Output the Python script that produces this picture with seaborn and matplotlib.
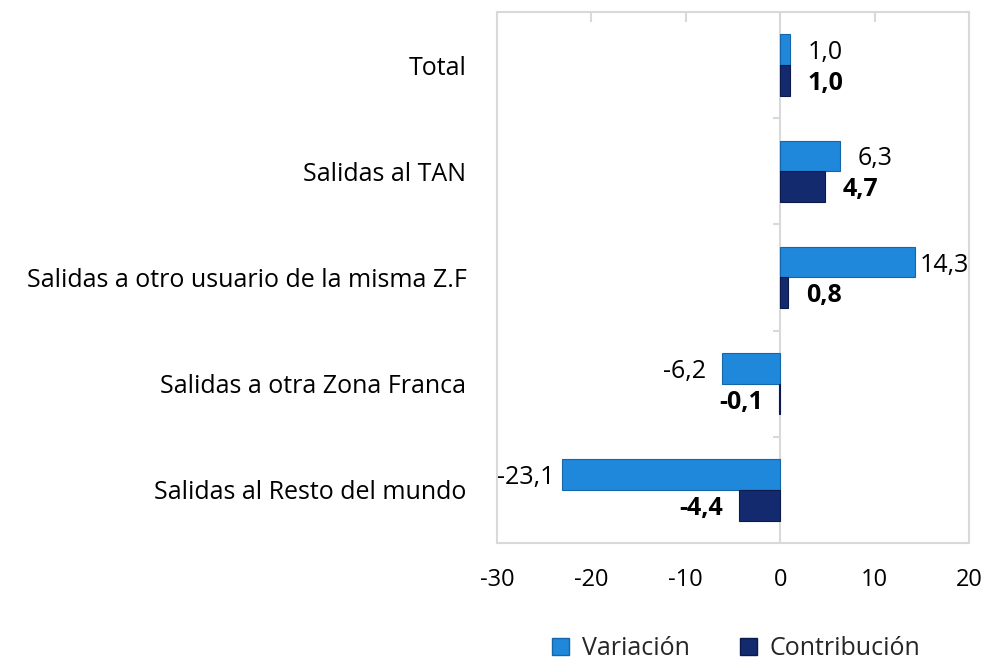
import matplotlib
matplotlib.use("Agg")
import matplotlib.pyplot as plt
import seaborn as sns
import pandas as pd
from matplotlib.patches import Patch

categories = ["Total", "Salidas al TAN", "Salidas a otro usuario de la misma Z.F",
              "Salidas a otra Zona Franca", "Salidas al Resto del mundo"]
variacion = [1.0, 6.3, 14.3, -6.2, -23.1]
contribucion = [1.0, 4.7, 0.8, -0.1, -4.4]
series_names = ["Variación", "Contribución"]
xticks = [-30, -20, -10, 0, 10, 20]

sns.set_theme(style="white")
plt.rcParams["font.family"] = ["Open Sans", "DejaVu Sans"]

FS = 18
FS_TICK = 17
colors = {"Variación": "#1f88db", "Contribución": "#142a6e"}
edges = {"Variación": "#1565a8", "Contribución": "#0b1a4a"}

df = pd.DataFrame({
    "cat": categories * 2,
    "serie": [series_names[0]] * len(categories) + [series_names[1]] * len(categories),
    "value": variacion + contribucion,
})

fig = plt.figure(figsize=(9.88, 6.62), dpi=100)
ax = fig.add_axes([497 / 988, (662 - 543) / 662, (969 - 497) / 988, (543 - 12) / 662])

sns.barplot(data=df, x="value", y="cat", hue="serie", orient="h", order=categories,
            hue_order=series_names, palette=colors, width=0.58, dodge=True,
            ax=ax, legend=False, saturation=1, linewidth=0)

for cont, name in zip(ax.containers, series_names):
    for p in cont:
        p.set_edgecolor(edges[name])
        p.set_linewidth(0.8)

ax.set_xlim(-30, 20)
ax.set_ylim(4.5, -0.5)
ax.set_xticks(xticks)
ax.set_xticklabels([str(t) for t in xticks])
ax.set_xlabel("")
ax.set_ylabel("")

gray = "#d9d9d9"
for s in ax.spines.values():
    s.set_visible(True)
    s.set_color(gray)
    s.set_linewidth(1.5)

ax.axvline(0, color=gray, lw=1.5, zorder=0.5)
ax.tick_params(axis="x", bottom=False, top=True, direction="in", length=7, width=1.5,
               color=gray, labelbottom=True, labeltop=False, labelsize=FS_TICK, pad=18,
               labelcolor="black")
ax.tick_params(axis="y", left=False, length=0, labelsize=FS, pad=22, labelcolor="black")
# category separator ticks on the zero axis
ax.hlines([0.5, 1.5, 2.5, 3.5], xmin=-0.75, xmax=0, color=gray, lw=1.5, zorder=0.5)

# data labels
fig.canvas.draw()
renderer = fig.canvas.get_renderer()
ax_bb = ax.get_window_extent(renderer)
texts = []
for cont, vals, bold in zip(ax.containers, [variacion, contribucion], [False, True]):
    for p, v in zip(cont, vals):
        yc = p.get_y() + p.get_height() / 2
        label = f"{v:.1f}".replace(".", ",")
        off = 18 if v >= 0 else -16
        t = ax.annotate(label, xy=(v, yc), xytext=(off, -3), textcoords="offset pixels",
                        ha="left" if v >= 0 else "right", va="center", fontsize=FS,
                        fontweight="bold" if bold else "normal", color="black",
                        annotation_clip=False)
        texts.append(t)

fig.canvas.draw()
for t in texts:
    bb = t.get_window_extent(renderer)
    dx = 0
    if bb.x1 > ax_bb.x1:
        dx = ax_bb.x1 - bb.x1
    elif bb.x0 < ax_bb.x0:
        dx = ax_bb.x0 - bb.x0
    if dx:
        ox, oy = t.xyann
        t.xyann = (ox + dx, oy)

handles = [Patch(facecolor=colors[n], edgecolor=edges[n], label=n) for n in series_names]
fig.legend(handles=handles, loc="center", bbox_to_anchor=(0.745, 0.02), ncol=2,
           frameon=False, fontsize=FS, handlelength=0.7, handleheight=0.7,
           columnspacing=2.0, handletextpad=0.5)

fig.savefig("out.png", dpi=100)
